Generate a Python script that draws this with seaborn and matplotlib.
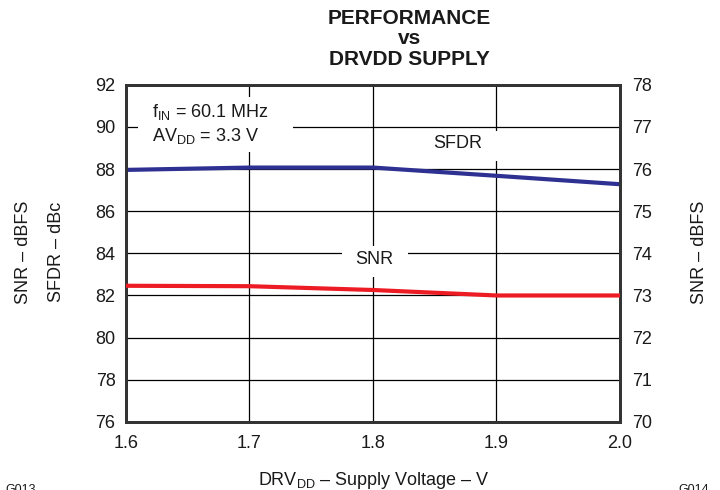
import matplotlib.pyplot as plt
import matplotlib.patches as mpatches
import seaborn as sns
import pandas as pd

supply = [1.6, 1.7, 1.8, 1.9, 2.0]
sfdr = [87.96, 88.07, 88.07, 87.68, 87.28]
snr = [73.23, 73.22, 73.13, 73.0, 73.0]

BLUE = '#2E3192'
RED = '#ED1C24'
INK = '#1a1a1a'

sns.set_style('white')
plt.rcParams['font.family'] = ['Liberation Sans', 'DejaVu Sans']
plt.rcParams['mathtext.fontset'] = 'custom'
plt.rcParams['mathtext.rm'] = 'Liberation Sans'
plt.rcParams['mathtext.it'] = 'Liberation Sans'
plt.rcParams['text.color'] = INK
plt.rcParams['axes.labelcolor'] = INK
plt.rcParams['xtick.color'] = INK
plt.rcParams['ytick.color'] = INK

df = pd.DataFrame({'supply': supply, 'sfdr': sfdr, 'snr': snr})

f = plt.figure(figsize=(7.2, 4.9), dpi=100)
ax = f.add_axes([0.175, 0.139, 0.686, 0.688])
ax2 = ax.twinx()

sns.lineplot(data=df, x='supply', y='sfdr', color=BLUE, linewidth=3, ax=ax, zorder=5)
sns.lineplot(data=df, x='supply', y='snr', color=RED, linewidth=3, ax=ax2, zorder=5)

ax.set_xlim(1.6, 2.0)
ax.set_ylim(76, 92)
ax.set_xticks(supply)
ax.set_xticklabels(['1.6', '1.7', '1.8', '1.9', '2.0'])
ax.set_yticks(range(76, 93, 2))
ax2.set_ylim(70, 78)
ax2.set_yticks(range(70, 79))

ax.grid(True, color='black', linewidth=0.9)
ax.set_axisbelow(True)
for a in (ax, ax2):
    a.tick_params(length=0, labelsize=13, pad=7.5)
    for s in a.spines.values():
        s.set_color('#333333')
        s.set_linewidth(2)
ax.tick_params(axis='x', pad=9.5)
ax2.tick_params(axis='y', pad=8.5)

ax.set_xlabel('')
ax.set_ylabel('')
ax2.set_ylabel('')

f.text(0.519, 1 - 485 / 490, 'DRV$_{\\rm DD}$ – Supply Voltage – V', fontsize=13,
       ha='center', va='baseline')
f.text(0.033, 0.486, 'SNR – dBFS', rotation=90, fontsize=13, ha='center', va='center')
f.text(0.079, 0.486, 'SFDR – dBc', rotation=90, fontsize=13, ha='center', va='center')
f.text(0.972, 0.486, 'SNR – dBFS', rotation=90, fontsize=13, ha='center', va='center')

f.text(0.569, 0.962, 'PERFORMANCE', fontsize=15, fontweight='bold', ha='center', va='center')
f.text(0.569, 0.922, 'vs', fontsize=15, fontweight='bold', ha='center', va='center')
f.text(0.569, 0.878, 'DRVDD SUPPLY', fontsize=15, fontweight='bold', ha='center', va='center')

# white boxes that break the grid behind the labels
for (x0, x1, y0, y1) in [(1.6097, 1.735, 88.82, 91.43),
                         (1.862, 1.905, 88.39, 89.82),
                         (1.775, 1.828, 82.88, 84.36)]:
    ax.add_patch(mpatches.Rectangle((x0, y0), x1 - x0, y1 - y0, facecolor='white',
                                    edgecolor='none', zorder=1))

ax.text(1.621, 90.72, 'f$_{\\rm IN}$ = 60.1 MHz', fontsize=13, ha='left', va='center', zorder=3)
ax.text(1.621, 89.58, 'AV$_{\\rm DD}$ = 3.3 V', fontsize=13, ha='left', va='center', zorder=3)
ax.text(1.869, 89.22, 'SFDR', fontsize=13, ha='center', va='center', zorder=3)
ax.text(1.801, 83.7, 'SNR', fontsize=13, ha='center', va='center', zorder=3)

f.text(0.007, 1 - 484 / 490, 'G013', fontsize=9, ha='left', va='top')
f.text(0.942, 1 - 484 / 490, 'G014', fontsize=9, ha='left', va='top')

plt.savefig('out.png', dpi=100)
